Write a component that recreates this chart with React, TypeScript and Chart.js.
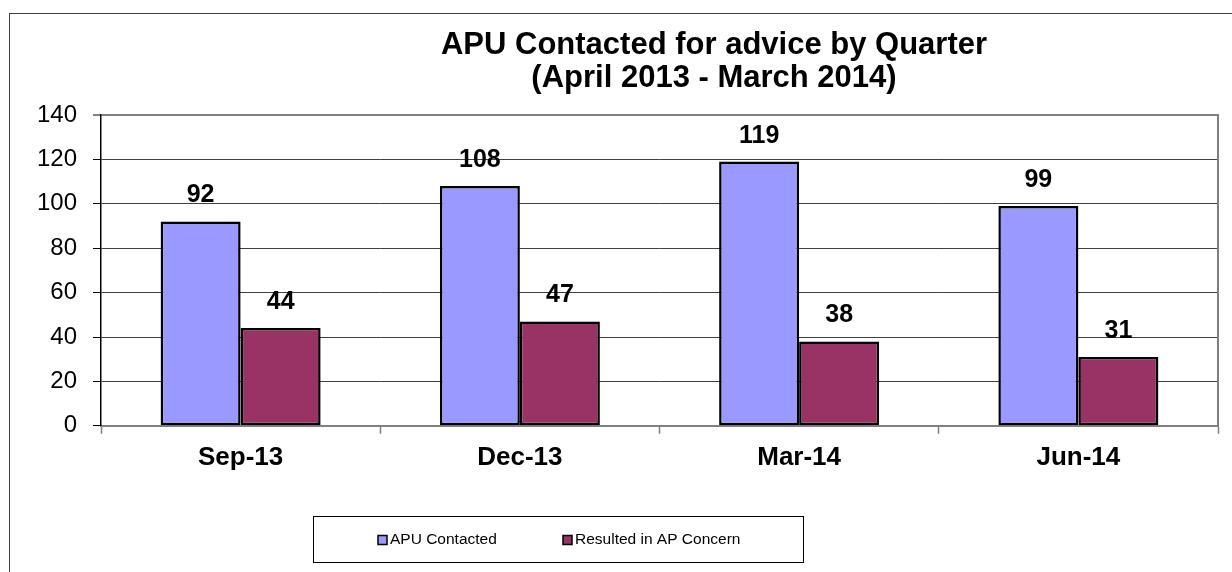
import React, { useEffect, useRef } from "react";
import { Chart, registerables } from "chart.js";

Chart.register(...registerables);

const categories = ["Sep-13", "Dec-13", "Mar-14", "Jun-14"];
const apuContacted = [92, 108, 119, 99];
const resultedInConcern = [44, 47, 38, 31];
const seriesNames = ["APU Contacted", "Resulted in AP Concern"];
const seriesColors = ["#9999FF", "#993366"];
const titleLines = ["APU Contacted for advice by Quarter", "(April 2013 - March 2014)"];
const yMin = 0;
const yMax = 140;
const yStep = 20;

const FONT = "'Liberation Sans', Arial, Helvetica, sans-serif";

const titleText = {
  id: "titleText",
  afterDraw(chart: any) {
    const ctx = chart.ctx;
    ctx.save();
    ctx.font = `bold 31px ${FONT}`;
    ctx.fillStyle = "#000";
    ctx.textAlign = "center";
    ctx.textBaseline = "middle";
    const cx = 714;
    titleLines.forEach((line, i) => {
      ctx.fillText(line, cx, 45 + i * 33);
    });
    ctx.restore();
  },
};

const valueLabels = {
  id: "valueLabels",
  afterDatasetsDraw(chart: any) {
    const ctx = chart.ctx;
    ctx.save();
    ctx.font = `bold 25px ${FONT}`;
    ctx.fillStyle = "#000";
    ctx.textAlign = "center";
    ctx.textBaseline = "middle";
    chart.data.datasets.forEach((ds: any, i: number) => {
      const meta = chart.getDatasetMeta(i);
      meta.data.forEach((bar: any, j: number) => {
        ctx.fillText(String(ds.data[j]), bar.x, bar.y - 26);
      });
    });
    ctx.restore();
  },
};

const frameAndLegend = {
  id: "frameAndLegend",
  afterDraw(chart: any) {
    const ctx = chart.ctx;
    const a = chart.chartArea;
    ctx.save();
    // right plot border
    ctx.strokeStyle = "#808080";
    ctx.lineWidth = 2;
    ctx.beginPath();
    ctx.moveTo(a.right, a.top - 1);
    ctx.lineTo(a.right, a.bottom);
    ctx.stroke();

    // legend box
    const lx = 313, ly = 516, lw = 490, lh = 46;
    ctx.strokeStyle = "#000";
    ctx.lineWidth = 1;
    ctx.strokeRect(lx + 0.5, ly + 0.5, lw, lh);
    ctx.font = `15.5px ${FONT}`;
    ctx.textBaseline = "middle";
    ctx.textAlign = "left";
    const cy = ly + lh / 2 + 1;
    const itemX = [378, 563];
    chart.data.datasets.forEach((ds: any, i: number) => {
      const x = itemX[i];
      ctx.fillStyle = ds.backgroundColor;
      ctx.fillRect(x, cy - 4.5, 9, 9);
      ctx.strokeStyle = "#000";
      ctx.lineWidth = 1.5;
      ctx.strokeRect(x, cy - 4.5, 9, 9);
      ctx.fillStyle = "#000";
      ctx.fillText(ds.label, x + 12, cy);
    });
    ctx.restore();
  },
};

export default function App() {
  const canvasRef = useRef<HTMLCanvasElement | null>(null);

  useEffect(() => {
    if (!canvasRef.current) return;
    Chart.defaults.font.family = FONT;
    const chart = new Chart(canvasRef.current, {
      type: "bar",
      data: {
        labels: categories,
        datasets: [
          {
            label: seriesNames[0],
            data: apuContacted,
            backgroundColor: seriesColors[0],
            borderColor: "#000",
            borderWidth: 2.5,
            borderSkipped: false,
            barPercentage: 1,
            categoryPercentage: 0.573,
          },
          {
            label: seriesNames[1],
            data: resultedInConcern,
            backgroundColor: seriesColors[1],
            borderColor: "#000",
            borderWidth: 2.5,
            borderSkipped: false,
            barPercentage: 1,
            categoryPercentage: 0.573,
          },
        ],
      },
      options: {
        responsive: false,
        animation: false,
        devicePixelRatio: 1,
        layout: { padding: { left: 0, right: 14, top: 115, bottom: 91 } },
        plugins: {
          legend: { display: false },
          tooltip: { enabled: false },
          title: { display: false },
        },
        scales: {
          x: {
            grid: {
              offset: true,
              drawOnChartArea: false,
              drawTicks: true,
              tickLength: 8,
              tickColor: "#808080",
              tickWidth: 1.5,
            },
            border: { display: true, color: "#808080", width: 2 },
            ticks: {
              color: "#000",
              font: { size: 26, weight: "bold", family: FONT },
              padding: 8,
            },
          },
          y: {
            min: yMin,
            max: yMax,
            afterFit: (scale: any) => {
              scale.width = 101;
            },
            ticks: {
              stepSize: yStep,
              color: "#000",
              font: { size: 24, family: FONT },
              padding: 16,
            },
            grid: {
              color: (c: any) =>
                c.tick && (c.tick.value === yMax || c.tick.value === yMin) ? "#808080" : "#404040",
              lineWidth: (c: any) => (c.tick && c.tick.value === yMax ? 2 : 1),
              tickLength: 8,
              tickColor: "#000",
              tickWidth: 1,
            },
            border: { display: true, color: "#000", width: 1.5 },
          },
        },
      },
      plugins: [titleText, valueLabels, frameAndLegend],
    });
    return () => chart.destroy();
  }, []);

  return (
    <div
      style={{
        position: "fixed",
        left: 0,
        top: 0,
        width: 1232,
        height: 572,
        overflow: "hidden",
        background: "#fff",
      }}
    >
      <div
        style={{
          position: "absolute",
          left: 9,
          top: 13,
          width: 1260,
          height: 620,
          border: "1px solid #404040",
        }}
      />
      <canvas
        ref={canvasRef}
        width={1232}
        height={572}
        style={{ position: "absolute", left: 0, top: 0, width: 1232, height: 572 }}
      />
    </div>
  );
}
